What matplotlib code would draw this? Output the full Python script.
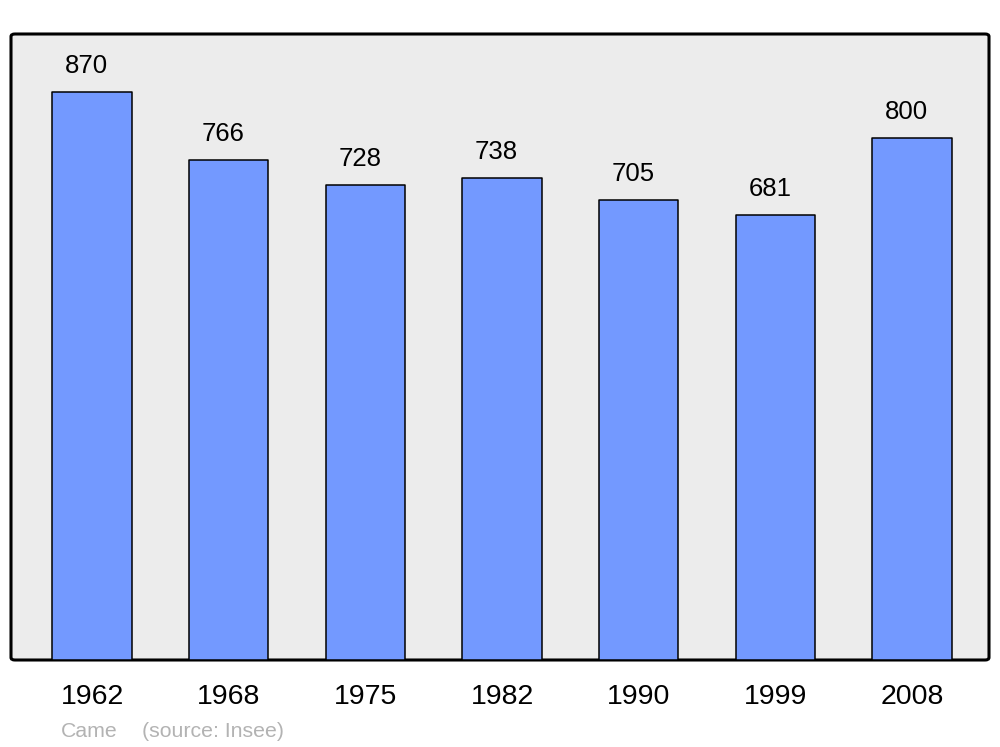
import matplotlib
matplotlib.use("Agg")
import matplotlib.pyplot as plt
from matplotlib.patches import FancyBboxPatch

plt.rcParams['font.family'] = ['Liberation Sans', 'DejaVu Sans']

# population by census year
years = ["1962", "1968", "1975", "1982", "1990", "1999", "2008"]
population = [870, 766, 728, 738, 705, 681, 800]

fig = plt.figure(figsize=(10, 7.47), dpi=100)
ax = fig.add_axes([0.011, 87 / 747, 0.978, 626 / 747])
ax.set_facecolor("none")

# rounded frame behind the bars
frame = FancyBboxPatch((0, 0), 1, 1, boxstyle="round,pad=0,rounding_size=0.004",
                       transform=ax.transAxes, facecolor="#ececec",
                       edgecolor="black", linewidth=2.2, zorder=0, clip_on=False)
ax.add_patch(frame)

x = range(len(years))
bars = ax.bar(x, population, width=0.58, color="#7399ff", edgecolor="black",
              linewidth=1.1, zorder=2)
for b in bars:
    b.set_joinstyle("round")

for xi, v in zip(x, population):
    ax.annotate(str(v), (xi - 0.04, v), xytext=(0, 13.6), textcoords="offset points",
                ha="center", va="baseline", fontsize=18.5)

ax.set_xlim(-0.593, 6.563)
ax.set_ylim(0, 958.8)
ax.set_xticks(list(x))
ax.set_xticklabels(years, fontsize=20.5)
ax.tick_params(axis="x", length=0, pad=17.5)
for lbl in ax.get_xticklabels():
    lbl.set_x(lbl.get_position()[0])
ax.set_yticks([])
for s in ax.spines.values():
    s.set_visible(False)

fig.text(0.061, 10 / 747, "Came", color="#b3b3b3", fontsize=15.3, va="baseline")
fig.text(0.142, 10 / 747, "(source: Insee)", color="#b3b3b3", fontsize=15.3, va="baseline")

fig.savefig("out.png", dpi=100)
